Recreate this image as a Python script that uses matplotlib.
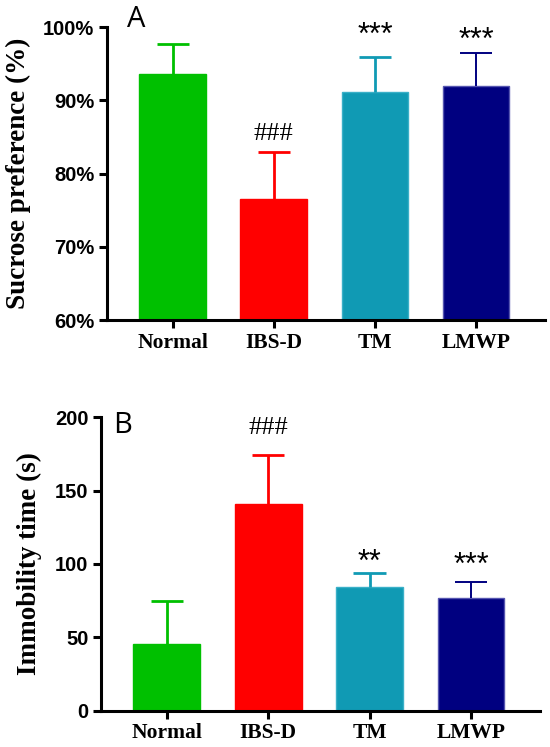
import matplotlib
matplotlib.use("Agg")
import matplotlib.pyplot as plt
from matplotlib.ticker import FuncFormatter

groups = ["Normal", "IBS-D", "TM", "LMWP"]
colors = ["#00C000", "#FF0000", "#109AB4", "#000080"]
edges = ["#00C000", "#FF0000", "#3AB0C8", "#5555B0"]

# sucrose preference (%), mean and upper error
sucrose_mean = [93.6, 76.5, 91.1, 92.0]
sucrose_err = [4.1, 6.5, 4.85, 4.5]
sucrose_marks = ["", "###", "***", "***"]

# immobility time (s)
immob_mean = [45.5, 140.7, 84.1, 76.6]
immob_err = [29.3, 33.4, 10.0, 10.9]
immob_marks = ["", "###", "**", "***"]

sans = "Liberation Sans"
serif = "Liberation Serif"


def draw_panel(ax, means, errs, marks, ylim, yticks, ylabel, pct, pads):
    x = list(range(len(groups)))
    base = ylim[0]
    ax.bar(x, [m - base for m in means], bottom=base, width=0.66,
           color=colors, edgecolor=edges, linewidth=1, zorder=2)
    for i in x:
        lw = 1.4 if i == 3 else 2.0
        top = means[i] + errs[i]
        ax.vlines(i, means[i], top, color=colors[i], linewidth=lw, zorder=3)
        ax.hlines(top, i - 0.16, i + 0.16, color=colors[i], linewidth=lw, zorder=3)
        if marks[i]:
            fam = serif if "#" in marks[i] else sans
            size = 19 if "#" in marks[i] else 22
            ax.annotate(marks[i], (i, top), xytext=(0, pads[i]),
                        textcoords="offset points", ha="center", va="bottom",
                        fontsize=size, family=fam, clip_on=False)
    ax.set_xlim(-0.65, 3.68)
    ax.set_ylim(*ylim)
    ax.set_yticks(yticks)
    if pct:
        ax.yaxis.set_major_formatter(FuncFormatter(lambda v, p: "%d%%" % v))
    ax.set_xticks(x)
    ax.set_xticklabels(groups, family=serif, fontweight="bold", fontsize=15.5)
    for lab in ax.get_yticklabels():
        lab.set_family(sans)
        lab.set_fontweight("bold")
        lab.set_fontsize(14.5)
    ax.spines["top"].set_visible(False)
    ax.spines["right"].set_visible(False)
    ax.spines["left"].set_linewidth(2.2)
    ax.spines["bottom"].set_linewidth(2.2)
    ax.tick_params(axis="both", width=2.2, length=6, pad=3)
    ax.set_ylabel(ylabel, family=serif, fontweight="bold", fontsize=19.5)


fig = plt.figure(figsize=(5.5, 7.47), dpi=100)
ax1 = fig.add_axes([0.1945, 0.5716, 0.796, 0.392])
ax2 = fig.add_axes([0.1836, 0.0486, 0.798, 0.3928])

draw_panel(ax1, sucrose_mean, sucrose_err, sucrose_marks, (60, 100),
           [60, 70, 80, 90, 100], "Sucrose preference (%)", True,
           [0, 4.7, 4, -2])
draw_panel(ax2, immob_mean, immob_err, immob_marks, (0, 200),
           [0, 50, 100, 150, 200], "Immobility time (s)", False,
           [0, 12, -4, 0.7])

ax1.text(0.046, 1.027, "A", transform=ax1.transAxes, fontsize=21,
         family="Open Sans", va="center", ha="left")
ax2.text(0.027, 0.973, "B", transform=ax2.transAxes, fontsize=21,
         family="Open Sans", va="center", ha="left")

ax1.yaxis.set_label_coords(-0.174, 0.5)
ax2.yaxis.set_label_coords(-0.134, 0.5)

fig.savefig("out.png", dpi=100)
